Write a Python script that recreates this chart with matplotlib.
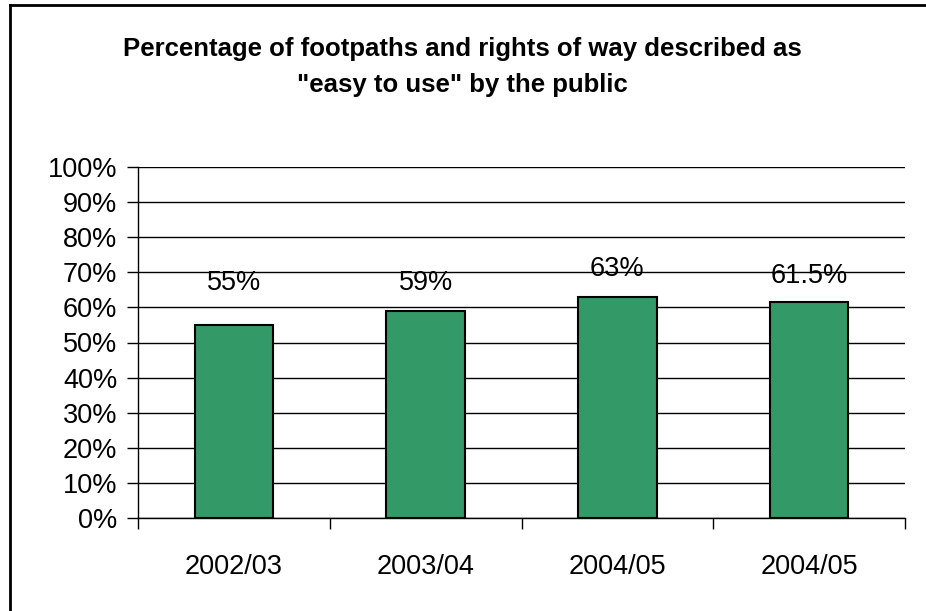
import matplotlib.pyplot as plt
from matplotlib.lines import Line2D
from matplotlib.ticker import PercentFormatter

# Chart data
years = ["2002/03", "2003/04", "2004/05", "2004/05"]
values = [55, 59, 63, 61.5]
value_labels = ["55%", "59%", "63%", "61.5%"]

title = ('Percentage of footpaths and rights of way described as\n'
         '"easy to use" by the public')

plt.rcParams['font.family'] = ['Liberation Sans', 'DejaVu Sans']

fig = plt.figure(figsize=(9.26, 6.11), dpi=100)
ax = fig.add_axes([138 / 926, 1 - 518 / 611, (905 - 138) / 926, (518 - 167) / 611])

x = list(range(len(values)))
ax.bar(x, values, width=0.41, color='#339966', edgecolor='black', linewidth=1.5, zorder=3)

# value labels above the bars (offsets)
label_offset = [12, 8, 8, 7.5]
for xi, v, lab, off in zip(x, values, value_labels, label_offset):
    ax.text(xi, v + off, lab, ha='center', va='center', fontsize=19.5, zorder=4)

ax.set_xlim(-0.5, len(values) - 0.5)
ax.set_ylim(0, 100)
ax.set_yticks(range(0, 101, 10))
ax.yaxis.set_major_formatter(PercentFormatter(decimals=0))
ax.yaxis.grid(True, color='black', linewidth=1)
ax.set_axisbelow(True)

ax.set_xticks(x)
ax.set_xticklabels(years)
ax.set_xticks([i - 0.5 for i in range(len(values) + 1)], minor=True)
ax.tick_params(axis='x', which='major', length=0, pad=26, labelsize=19.5)
ax.tick_params(axis='x', which='minor', length=8, width=1, direction='out')
ax.tick_params(axis='y', length=8, width=1, pad=7, labelsize=19.5)

for side in ['top', 'right']:
    ax.spines[side].set_visible(False)
for side in ['left', 'bottom']:
    ax.spines[side].set_linewidth(1)

fig.text(462 / 926, 1 - 67 / 611, title, ha='center', va='center',
         fontsize=18.5, fontweight='bold', linespacing=1.6)

# chart border (only left and top edges fall inside the image)
bx, by = 10 / 926, 1 - 5 / 611
fig.add_artist(Line2D([bx, bx], [0, by], transform=fig.transFigure,
                      color='black', linewidth=2))
fig.add_artist(Line2D([bx, 1], [by, by], transform=fig.transFigure,
                      color='black', linewidth=2))

fig.savefig('out.png', dpi=100)
